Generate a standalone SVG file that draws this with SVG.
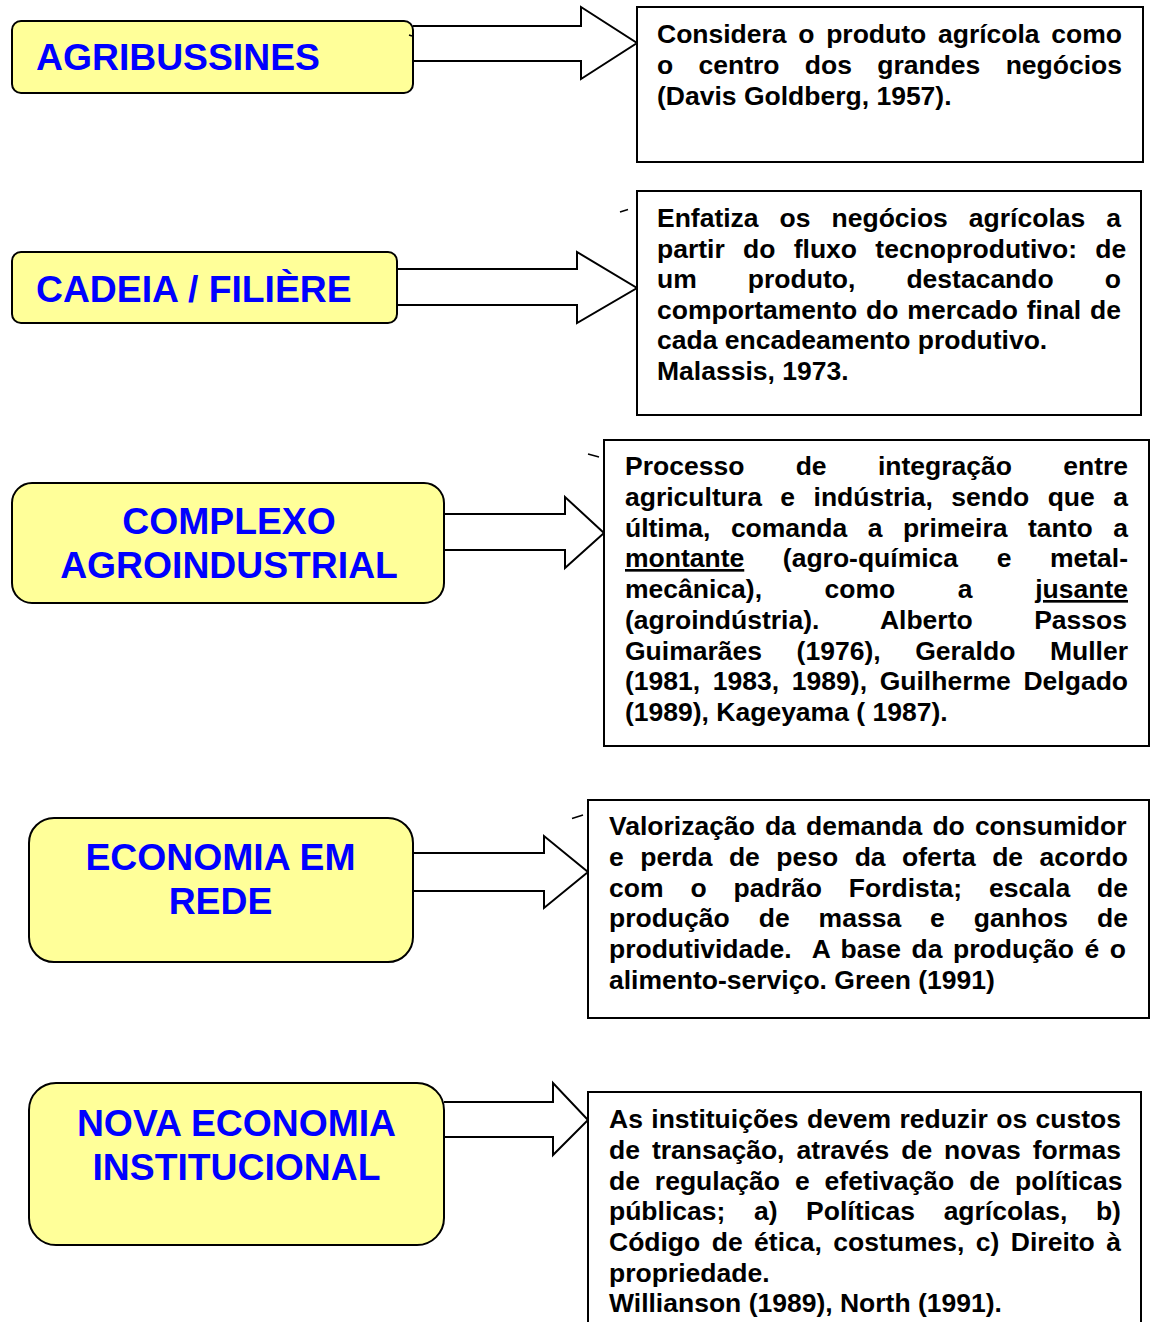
<svg xmlns="http://www.w3.org/2000/svg" width="1150" height="1322" viewBox="0 0 1150 1322">
<style>
.node{fill:#FFFF99;stroke:#000;stroke-width:2}
.ntxt{font-family:"Liberation Sans",Arial,sans-serif;font-weight:bold;font-size:37.3px;fill:#0000FF}
.box{fill:#fff;stroke:#000;stroke-width:2}
.btxt{font-family:"Liberation Sans",Arial,sans-serif;font-weight:bold;font-size:26.5px;fill:#000}
.arrow{fill:#fff;stroke:#000;stroke-width:2;stroke-linejoin:miter}
.tick{stroke:#000;stroke-width:1.5}
</style>
<rect width="1150" height="1322" fill="#fff"/>
<g id="connectors">
<path class="arrow" d="M413,26 L581,26 L581,7 L637,43 L581,79 L581,61 L413,61"/>
<path class="arrow" d="M397,269 L577,269 L577,252 L637,288 L577,323 L577,305 L397,305"/>
<path class="arrow" d="M444,514 L565,514 L565,497 L604,533 L565,568 L565,550 L444,550"/>
<path class="arrow" d="M413,853 L544,853 L544,836 L588,872 L544,908 L544,891 L413,891"/>
<path class="arrow" d="M444,1102 L553,1102 L553,1083 L588,1120 L553,1155 L553,1137 L444,1137"/>
</g>
<g id="node1">
<rect class="node" x="12" y="21" width="401" height="72" rx="9"/>
<text class="ntxt" x="36" y="69.5">AGRIBUSSINES</text>
<line class="tick" x1="409" y1="35" x2="412" y2="36"/>
</g>
<g id="node2">
<rect class="node" x="12" y="252" width="385" height="71" rx="9"/>
<text class="ntxt" x="36" y="301.5">CADEIA / FILIÈRE</text>
</g>
<g id="node3">
<rect class="node" x="12" y="483" width="432" height="120" rx="20"/>
<text class="ntxt" x="229" y="533.5" text-anchor="middle">COMPLEXO</text>
<text class="ntxt" x="229" y="577.5" text-anchor="middle">AGROINDUSTRIAL</text>
</g>
<g id="node4">
<rect class="node" x="29" y="818" width="384" height="144" rx="25"/>
<text class="ntxt" x="220.5" y="869.5" text-anchor="middle">ECONOMIA EM</text>
<text class="ntxt" x="220.5" y="913.5" text-anchor="middle">REDE</text>
</g>
<g id="node5">
<rect class="node" x="29" y="1083" width="415" height="162" rx="27"/>
<text class="ntxt" x="236.5" y="1135.5" text-anchor="middle">NOVA ECONOMIA</text>
<text class="ntxt" x="236.5" y="1179.5" text-anchor="middle">INSTITUCIONAL</text>
</g>
<g id="box1">
<rect class="box" x="637" y="7" width="506" height="155"/>
<text class="btxt" x="657" y="43" word-spacing="4.34">Considera o produto agrícola como</text>
<text class="btxt" x="657" y="74" word-spacing="17.95">o centro dos grandes negócios</text>
<text class="btxt" x="657" y="105">(Davis Goldberg, 1957).</text>
</g>
<g id="box2">
<rect class="box" x="637" y="191" width="504" height="224"/>
<text class="btxt" x="657" y="227" word-spacing="13.64">Enfatiza os negócios agrícolas a</text>
<text class="btxt" x="657" y="257.5" word-spacing="10.95">partir do fluxo tecnoprodutivo: de</text>
<text class="btxt" x="657" y="288" word-spacing="43.75">um produto, destacando o</text>
<text class="btxt" x="657" y="318.5" word-spacing="1.51">comportamento do mercado final de</text>
<text class="btxt" x="657" y="349">cada encadeamento produtivo.</text>
<text class="btxt" x="657" y="379.5">Malassis, 1973.</text>
<line class="tick" x1="620" y1="212" x2="628" y2="209.5"/>
</g>
<g id="box3">
<rect class="box" x="604" y="440" width="545" height="306"/>
<text class="btxt" x="625" y="475" word-spacing="43.96">Processo de integração entre</text>
<text class="btxt" x="625" y="505.5" word-spacing="11.06">agricultura e indústria, sendo que a</text>
<text class="btxt" x="625" y="536.5" word-spacing="13.12">última, comanda a primeira tanto a</text>
<text class="btxt" x="625" y="567" word-spacing="31.22"><tspan text-decoration="underline">montante</tspan> (agro-química e metal-</text>
<text class="btxt" x="625" y="598" word-spacing="55.24">mecânica), como a <tspan text-decoration="underline">jusante</tspan></text>
<text class="btxt" x="625" y="628.5" word-spacing="54.18">(agroindústria). Alberto Passos</text>
<text class="btxt" x="625" y="659.5" word-spacing="27.26">Guimarães (1976), Geraldo Muller</text>
<text class="btxt" x="625" y="690" word-spacing="5.34">(1981, 1983, 1989), Guilherme Delgado</text>
<text class="btxt" x="625" y="721">(1989), Kageyama ( 1987).</text>
<line class="tick" x1="588" y1="454" x2="599" y2="457"/>
</g>
<g id="box4">
<rect class="box" x="588" y="800" width="561" height="218"/>
<text class="btxt" x="609" y="835" word-spacing="2.74">Valorização da demanda do consumidor</text>
<text class="btxt" x="609" y="865.5" word-spacing="9.13">e perda de peso da oferta de acordo</text>
<text class="btxt" x="609" y="896.5" word-spacing="19.56">com o padrão Fordista; escala de</text>
<text class="btxt" x="609" y="927" word-spacing="21.62">produção de massa e ganhos de</text>
<text class="btxt" x="609" y="957.5" word-spacing="3.25" xml:space="preserve">produtividade.  A base da produção é o</text>
<text class="btxt" x="609" y="988.5">alimento-serviço. Green (1991)</text>
<line class="tick" x1="572" y1="818.5" x2="583" y2="815"/>
</g>
<g id="box5">
<rect class="box" x="588" y="1092" width="553" height="260"/>
<text class="btxt" x="609" y="1128" word-spacing="1.08">As instituições devem reduzir os custos</text>
<text class="btxt" x="609" y="1158.5" word-spacing="4.6">de transação, através de novas formas</text>
<text class="btxt" x="609" y="1189.5" word-spacing="7.55">de regulação e efetivação de políticas</text>
<text class="btxt" x="609" y="1220" word-spacing="21.22">públicas; a) Políticas agrícolas, b)</text>
<text class="btxt" x="609" y="1251" word-spacing="4.09">Código de ética, costumes, c) Direito à</text>
<text class="btxt" x="609" y="1281.5">propriedade.</text>
<text class="btxt" x="609" y="1312">Willianson (1989), North (1991).</text>
</g>
</svg>
